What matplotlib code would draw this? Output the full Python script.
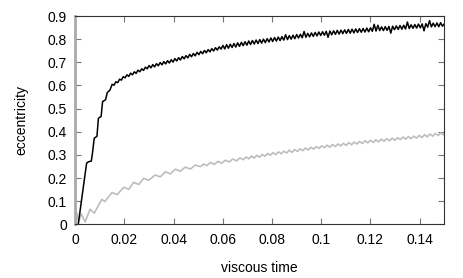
import numpy as np
from matplotlib import pyplot as plt

plt.rcParams['font.family'] = ['Liberation Sans', 'DejaVu Sans']

# black curve: steep start read point by point
black_x_start = [0.0012, 0.0046, 0.0053, 0.0065, 0.0069, 0.0077, 0.0088, 0.0094,
                 0.0105, 0.0111, 0.0123, 0.0130, 0.0141]
black_y_start = [0.0, 0.264, 0.270, 0.273, 0.300, 0.372, 0.380, 0.458,
                 0.466, 0.530, 0.538, 0.569, 0.580]

# black curve from 0.015 on, sampled every 0.00075
black_step = 0.00075
black_y_rest = [
    0.605, 0.601, 0.616, 0.612, 0.627, 0.623, 0.638, 0.633, 0.646, 0.639,
    0.653, 0.646, 0.659, 0.652, 0.666, 0.659, 0.672, 0.665, 0.679, 0.672,
    0.686, 0.676, 0.690, 0.680, 0.694, 0.685, 0.699, 0.689, 0.703, 0.693,
    0.707, 0.697, 0.711, 0.701, 0.716, 0.706, 0.720, 0.710, 0.725, 0.715,
    0.729, 0.719, 0.734, 0.724, 0.738, 0.728, 0.743, 0.733, 0.747, 0.737,
    0.751, 0.741, 0.755, 0.745, 0.759, 0.749, 0.763, 0.753, 0.767, 0.757,
    0.773, 0.758, 0.776, 0.761, 0.778, 0.764, 0.781, 0.766, 0.784, 0.769,
    0.786, 0.772, 0.789, 0.774, 0.792, 0.777, 0.794, 0.779, 0.796, 0.781,
    0.798, 0.783, 0.800, 0.785, 0.802, 0.788, 0.805, 0.790, 0.807, 0.792,
    0.809, 0.794, 0.811, 0.796, 0.819, 0.798, 0.815, 0.800, 0.817, 0.802,
    0.820, 0.805, 0.821, 0.806, 0.833, 0.808, 0.825, 0.810, 0.827, 0.812,
    0.829, 0.814, 0.831, 0.816, 0.832, 0.817, 0.834, 0.808, 0.835, 0.819,
    0.836, 0.821, 0.838, 0.822, 0.839, 0.824, 0.840, 0.825, 0.842, 0.826,
    0.843, 0.827, 0.844, 0.829, 0.845, 0.830, 0.846, 0.831, 0.848, 0.832,
    0.849, 0.834, 0.864, 0.835, 0.860, 0.837, 0.853, 0.837, 0.854, 0.838,
    0.855, 0.826, 0.856, 0.841, 0.857, 0.842, 0.859, 0.843, 0.860, 0.844,
    0.874, 0.846, 0.862, 0.847, 0.863, 0.848, 0.865, 0.849, 0.866, 0.836,
    0.867, 0.852, 0.880, 0.853, 0.869, 0.854, 0.870, 0.854, 0.871, 0.856,
    0.866]

# grey curve: early part read point by point
grey_x_start = [0.0, 0.0006, 0.0013, 0.0024, 0.0040, 0.0060, 0.0077, 0.0108,
                0.0120, 0.0149, 0.0170, 0.0197, 0.0217, 0.0237, 0.0258, 0.0278,
                0.0298, 0.0325, 0.0346, 0.0366, 0.0386, 0.0407, 0.0427, 0.0447,
                0.0468, 0.0488, 0.0508, 0.0522]
grey_y_start = [0.030, 0.050, 0.010, 0.045, 0.010, 0.065, 0.048, 0.108,
                0.098, 0.137, 0.128, 0.160, 0.151, 0.181, 0.172, 0.199,
                0.190, 0.213, 0.205, 0.227, 0.218, 0.238, 0.229, 0.247,
                0.239, 0.256, 0.249, 0.260]

# grey curve 0.0535 - 0.067, every 0.0015
grey_x_mid0 = 0.0535
grey_step_mid = 0.0015
grey_y_mid = [0.254, 0.267, 0.259, 0.272, 0.264, 0.277, 0.269, 0.282, 0.274, 0.287]

# grey curve from 0.0683 on, every 0.0011
grey_x_end0 = 0.0683
grey_step_end = 0.0011
grey_y_end = [
    0.279, 0.291, 0.283, 0.295, 0.286, 0.298, 0.290, 0.302, 0.294, 0.306,
    0.298, 0.310, 0.301, 0.313, 0.305, 0.316, 0.308, 0.320, 0.311, 0.323,
    0.315, 0.326, 0.318, 0.330, 0.321, 0.333, 0.325, 0.336, 0.328, 0.339,
    0.331, 0.342, 0.333, 0.345, 0.336, 0.347, 0.339, 0.350, 0.341, 0.353,
    0.344, 0.355, 0.347, 0.358, 0.349, 0.361, 0.352, 0.363, 0.354, 0.365,
    0.356, 0.368, 0.359, 0.370, 0.361, 0.372, 0.363, 0.374, 0.366, 0.377,
    0.368, 0.379, 0.370, 0.381, 0.372, 0.384, 0.375, 0.387, 0.378, 0.390,
    0.381, 0.392, 0.384, 0.395, 0.387]

x_ticks = [0, 0.02, 0.04, 0.06, 0.08, 0.1, 0.12, 0.14]
x_labels = ['0', '0.02', '0.04', '0.06', '0.08', '0.1', '0.12', '0.14']
y_ticks = [0, 0.1, 0.2, 0.3, 0.4, 0.5, 0.6, 0.7, 0.8, 0.9]
y_labels = ['0', '0.1', '0.2', '0.3', '0.4', '0.5', '0.6', '0.7', '0.8', '0.9']

black_x = black_x_start + [0.015 + black_step * i for i in range(len(black_y_rest))]
black_y = black_y_start + black_y_rest
grey_x = (grey_x_start
          + [grey_x_mid0 + grey_step_mid * i for i in range(len(grey_y_mid))]
          + [grey_x_end0 + grey_step_end * i for i in range(len(grey_y_end))])
grey_y = grey_y_start + grey_y_mid + grey_y_end

fig = plt.figure(figsize=(4.63, 2.78), dpi=100)
ax = fig.add_axes([0.1626, 0.1932, 0.797, 0.7492])

ax.plot(grey_x, grey_y, color='#bdbdbd', lw=1.2)
ax.plot(black_x, black_y, color='black', lw=1.1)

ax.set_xlim(0, 0.15)
ax.set_ylim(0, 0.9)
ax.set_xticks(x_ticks)
ax.set_xticklabels(x_labels)
ax.set_yticks(y_ticks)
ax.set_yticklabels(y_labels)
ax.tick_params(direction='in', length=4, width=0.8, color='#777777',
               top=True, right=True, labelsize=10, pad=6)

for s in ['top', 'right', 'bottom']:
    ax.spines[s].set_color('#333333')
    ax.spines[s].set_linewidth(0.8)
ax.spines['left'].set_color('#aaaaaa')
ax.spines['left'].set_linewidth(2)

ax.set_xlabel('viscous time', fontsize=10, labelpad=10)
ax.set_ylabel('eccentricity', fontsize=10, labelpad=14)

fig.savefig('out.png', dpi=100)
